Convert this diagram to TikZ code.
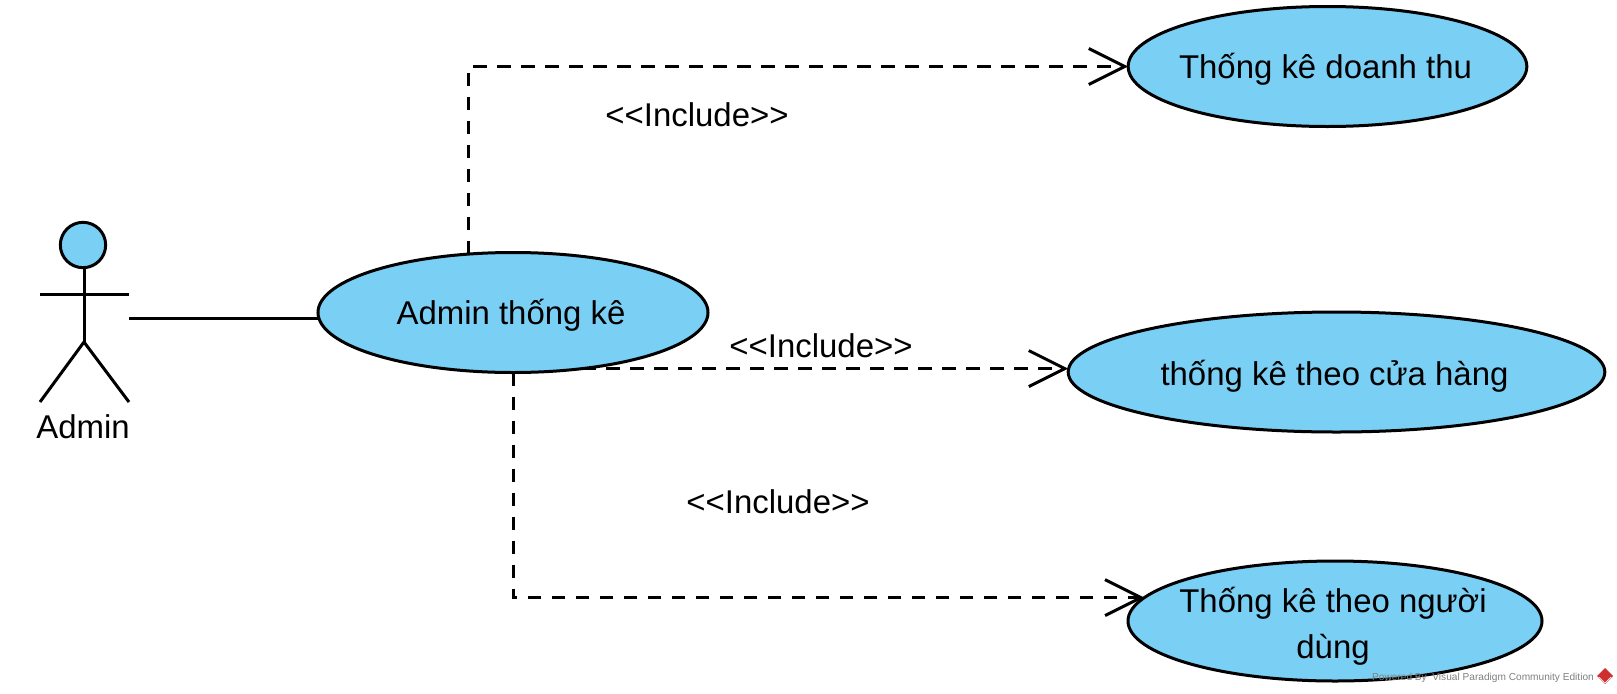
\documentclass[tikz,border=0pt]{standalone}
\usepackage{fontspec}
\setmainfont{Liberation Sans}
\usetikzlibrary{shapes.geometric,arrows.meta}
\definecolor{usecaseblue}{HTML}{7ACFF5}
\definecolor{logored}{HTML}{D02F2F}
\tikzset{
    usecase/.style={draw,ellipse,fill=usecaseblue,line width=2.25pt,inner ysep=0pt,inner xsep=-40pt,outer sep=0pt,align=center,minimum height=90pt,text height=20pt,text depth=2.2pt,font=\fontsize{24.7}{34.5}\selectfont,execute at end node={\hspace*{3pt}}},
    include/.style={line width=2.25pt,dash pattern=on 10pt off 8pt,-{Straight Barb[length=27pt,width=27pt,line width=2.25pt]}},
    incllabel/.style={font=\fontsize{24.7}{29}\selectfont},
    stick/.style={line width=2.25pt}
}

\begin{document}
\begin{tikzpicture}[x=0.75pt,y=-0.75pt]
            \useasboundingbox (0,0) rectangle (1617,693);

            \node[usecase,minimum width=292.5pt] (ucmain) at (513,312.5) {Admin thống kê};
            \node[usecase,minimum width=299pt] (ucdoanhthu) at (1327.5,66.5) {Thống kê doanh thu};
            \node[usecase,minimum width=402.5pt,text height=22pt] (uccuahang) at (1336.5,372) {thống kê theo cửa hàng};
            \node[usecase,minimum width=310.5pt,text height=56.5pt,text depth=0pt] (ucnguoidung) at (1335,621) {Thống kê theo người\\dùng};

            \node[draw,circle,fill=usecaseblue,stick,minimum size=34pt,inner sep=0pt,outer sep=0pt] (adminhead) at (83,245) {};
            \coordinate (armleft) at (40,294);
            \coordinate (armright) at (129,294);
            \coordinate (hip) at (84,342);
            \coordinate (footleft) at (40,402);
            \coordinate (footright) at (129,402);
            \coordinate (adminhand) at (129,318);
            \draw[stick] (adminhead.south -| hip) -- (hip);
            \draw[stick] (armleft) -- (armright);
            \draw[stick] (footleft) -- (hip) -- (footright);
            \node[incllabel] (adminname) at (83,427) {Admin};

            \draw[stick] (adminhand) -- (adminhand -| ucmain.west);
            \draw[include] (ucmain.127) |- (ucdoanhthu.west);
            \draw[include] (ucmain.-39) -- (ucmain.-39 -| uccuahang.west);
            \draw[include] (ucmain.south) |- (ucnguoidung.173);

            \node[incllabel] (inclone) at (697,115) {<{}<Include>{}>};
            \node[incllabel] (incltwo) at (821,346) {<{}<Include>{}>};
            \node[incllabel] (inclthree) at (778,502) {<{}<Include>{}>};

            \node[text=gray,font=\fontsize{7.6}{10}\selectfont,inner sep=0pt] (poweredby) at (1483,678) {Powered By\ \ Visual Paradigm Community Edition};
            \fill[logored] (1605,668) -- (1613,676) -- (1605,684) -- (1597,676) -- cycle;
            \draw[white,line width=0.5pt] (1599,677) -- (1605,683) -- (1611,677);
        \end{tikzpicture}
\end{document}
